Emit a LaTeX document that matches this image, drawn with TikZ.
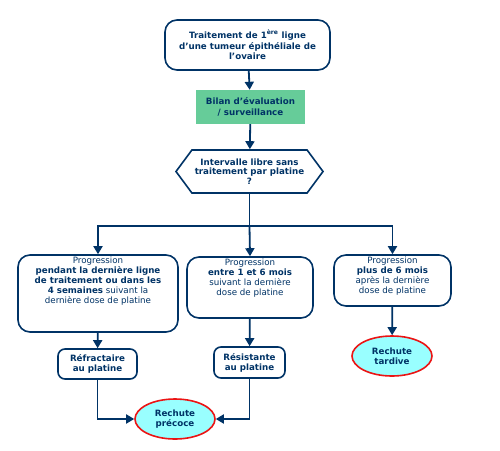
\documentclass[tikz,border=0pt]{standalone}
\usepackage{fontspec}
\setmainfont{DejaVu Sans}
\usetikzlibrary{arrows.meta,shapes.geometric,shapes.symbols}
\definecolor{ovnavy}{RGB}{0,51,102}
\definecolor{ovgreen}{RGB}{102,204,153}
\definecolor{ovcyan}{RGB}{153,255,255}
\definecolor{ovred}{RGB}{235,20,20}

\begin{document}
\begin{tikzpicture}[x=1pt, y=-1pt,
    box/.style={rectangle, draw=ovnavy, rounded corners=12pt, line width=1.6pt,
                fill=white, text=ovnavy, align=center, inner sep=1pt,
                font=\fontsize{8.7}{10}\selectfont},
    smallbox/.style={box, rounded corners=7pt, font=\fontsize{8.7}{10}\selectfont\bfseries},
    relapse/.style={ellipse, draw=ovred, line width=1.6pt, fill=ovcyan,
                    text=ovnavy, align=center, inner sep=0pt,
                    minimum width=80, minimum height=40,
                    font=\fontsize{8.7}{10}\selectfont\bfseries},
    arr/.style={-{Triangle[length=8pt, width=9pt]}, line width=1.8pt, ovnavy},
    link/.style={line width=1.8pt, ovnavy},
  ]
  \useasboundingbox (0,0) rectangle (500,450);

  % Traitement initial
  \node[box, font=\fontsize{8.7}{10.5}\selectfont\bfseries,
        minimum width=165, minimum height=50] (first) at (247.5,45)
    {Traitement de 1\textsuperscript{ère} ligne\\d'une tumeur épithéliale de\\l'ovaire};

  % Bilan
  \node[rectangle, fill=ovgreen, text=ovnavy, align=center,
        font=\fontsize{8.7}{10.5}\selectfont\bfseries,
        minimum width=109, minimum height=34] (bilan) at (250.5,107)
    {Bilan d'évaluation\\/ surveillance};

  % Question intervalle libre
  \node[signal, signal to=west and east, signal pointer angle=107,
        draw=ovnavy, line width=1.6pt, fill=white, text=ovnavy, align=center,
        font=\fontsize{8.7}{9.5}\selectfont\bfseries, inner sep=1pt,
        minimum width=147, minimum height=43] (interval) at (249.5,171.5)
    {Intervalle libre sans\\traitement par platine\\?};

  % Trois types de progression
  \node[box, minimum width=160, minimum height=77, text depth=27pt] (progA) at (98,293.5)
    {Progression\\\textbf{pendant la dernière ligne}\\\textbf{de traitement ou dans les}\\
     \textbf{4 semaines} suivant la\\dernière dose de platine};
  \node[box, minimum width=126, minimum height=61, text depth=20pt] (progB) at (250,287.5)
    {Progression\\\textbf{entre 1 et 6 mois}\\suivant la dernière\\dose de platine};
  \node[box, minimum width=117, minimum height=51, text depth=10pt] (progC) at (392.5,280.5)
    {Progression\\\textbf{plus de 6 mois}\\après la dernière\\dose de platine};

  % Sensibilite au platine
  \node[smallbox, minimum width=79, minimum height=30] (refract) at (97.5,364)
    {Réfractaire\\au platine};
  \node[smallbox, minimum width=71, minimum height=31] (resist) at (249.5,362.5)
    {Résistante\\au platine};

  % Rechutes
  \node[relapse] (early) at (175,419) {Rechute\\précoce};
  \node[relapse] (late) at (392,356) {Rechute\\tardive};

  % Strelice
  \coordinate (split) at (249.5,226);
  \draw[arr] (first) -- (bilan);
  \draw[arr] (bilan) -- (interval);
  \draw[link] (interval.south) -- (split);
  \draw[arr] (split) -| (progA.north);
  \draw[arr] (split) -- (progB.north);
  \draw[arr] (split) -| (progC.north);
  \draw[arr] (progA) -- (refract);
  \draw[arr] (progB) -- (resist);
  \draw[arr] (progC) -- (late);
  \draw[arr] (refract.south) |- (early.west);
  \draw[arr] (resist.south) |- (early.east);
\end{tikzpicture}
\end{document}
